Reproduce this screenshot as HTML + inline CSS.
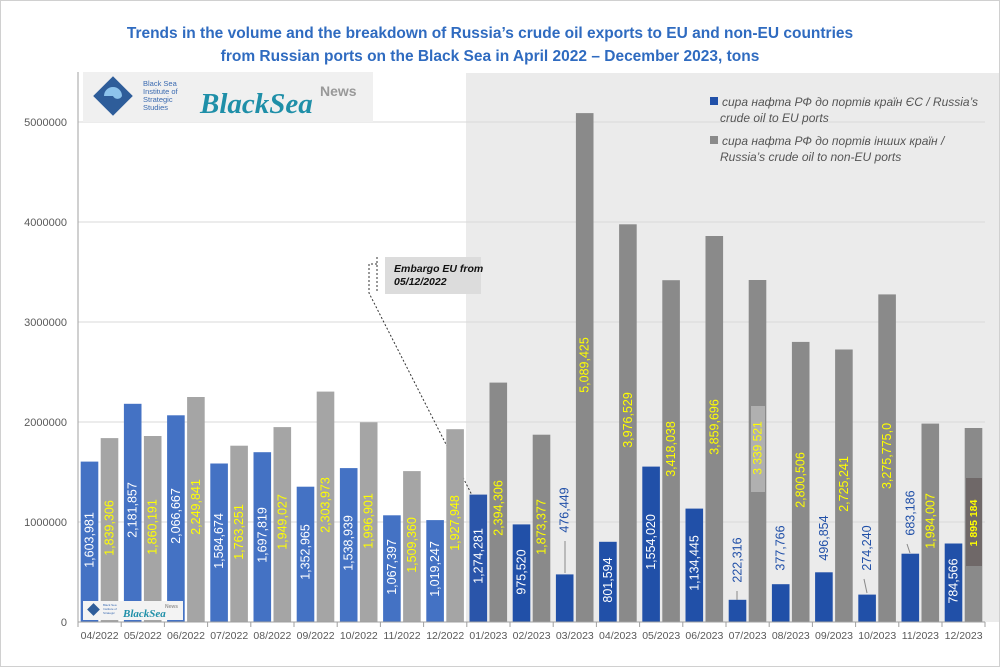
<!DOCTYPE html>
<html><head><meta charset="utf-8"><style>
body{margin:0;background:#fff;}
svg{display:block;font-family:"Liberation Sans",sans-serif;}
</style></head><body>
<svg width="1000" height="667" viewBox="0 0 1000 667">
<rect x="0.5" y="0.5" width="999" height="666" fill="#fff" stroke="#d0d0d0"/>
<rect x="466" y="73" width="533" height="549" fill="#ebebeb"/>
<text x="490" y="38" text-anchor="middle" font-size="15.5" font-weight="bold" fill="#2f6bc0">Trends in the volume and the breakdown of Russia’s crude oil exports to EU and non-EU countries</text>
<text x="490" y="61" text-anchor="middle" font-size="15.5" font-weight="bold" fill="#2f6bc0">from Russian ports on the Black Sea in April 2022 – December 2023, tons</text>
<g stroke="#d9d9d9" stroke-width="1">
<line x1="78" y1="522" x2="985" y2="522"/><line x1="78" y1="422" x2="985" y2="422"/><line x1="78" y1="322" x2="985" y2="322"/><line x1="78" y1="222" x2="985" y2="222"/><line x1="78" y1="122" x2="985" y2="122"/>
</g>
<g font-size="11" fill="#595959" text-anchor="end">
<text x="67" y="626">0</text><text x="67" y="526">1000000</text><text x="67" y="426">2000000</text><text x="67" y="326">3000000</text><text x="67" y="226">4000000</text><text x="67" y="126">5000000</text>
</g>
<!-- logo -->
<rect x="83" y="72" width="290" height="50" fill="#f0f0f0"/>
<rect x="99" y="82" width="28" height="28" fill="#2e5d9a" transform="rotate(45 113 96)"/>
<path d="M104 96 a9 9 0 1 1 18 0 a5 5 0 0 1 -9 0" fill="#8dc3ec"/>
<g font-size="7.5" fill="#3a6ab0"><text x="143" y="86">Black Sea</text><text x="143" y="94">Institute of</text><text x="143" y="102">Strategic</text><text x="143" y="110">Studies</text></g>
<text x="200" y="113" font-family="'Liberation Serif',serif" font-style="italic" font-weight="bold" font-size="29" fill="#1f8fa8">BlackSea</text>
<text x="320" y="96" font-size="14" font-weight="bold" fill="#999">News</text>
<!-- legend -->
<rect x="710" y="97" width="8" height="8" fill="#2150a8"/>
<rect x="710" y="136" width="8" height="8" fill="#8a8a8a"/>
<g font-size="12" font-style="italic" fill="#555">
<text x="722" y="106">сира нафта РФ до портів країн ЄС / Russia’s</text>
<text x="720" y="122">crude oil to EU ports</text>
<text x="722" y="145">сира нафта РФ до портів інших країн /</text>
<text x="720" y="161">Russia’s crude oil to non-EU ports</text>
</g>
<!-- embargo -->
<rect x="385" y="257" width="96" height="37" fill="#dcdcdc"/>
<g font-size="10.5" font-style="italic" font-weight="bold" fill="#111"><text x="394" y="272">Embargo EU from</text><text x="394" y="285">05/12/2022</text></g>
<g stroke="#333" stroke-dasharray="2,2" fill="none" stroke-width="1"><path d="M377 257 V293"/><path d="M377 264 H369 V293 L478 507"/></g>
<!-- bars -->
<g>
<rect x="80.7" y="461.6" width="17.6" height="160.4" fill="#4472c4"/><rect x="100.7" y="438.1" width="17.6" height="183.9" fill="#a5a5a5"/>
<rect x="123.9" y="403.8" width="17.6" height="218.2" fill="#4472c4"/><rect x="143.9" y="436" width="17.6" height="186" fill="#a5a5a5"/>
<rect x="167.1" y="415.3" width="17.6" height="206.7" fill="#4472c4"/><rect x="187.1" y="397" width="17.6" height="225" fill="#a5a5a5"/>
<rect x="210.3" y="463.5" width="17.6" height="158.5" fill="#4472c4"/><rect x="230.3" y="445.7" width="17.6" height="176.3" fill="#a5a5a5"/>
<rect x="253.5" y="452.2" width="17.6" height="169.8" fill="#4472c4"/><rect x="273.5" y="427.1" width="17.6" height="194.9" fill="#a5a5a5"/>
<rect x="296.7" y="486.7" width="17.6" height="135.3" fill="#4472c4"/><rect x="316.7" y="391.6" width="17.6" height="230.4" fill="#a5a5a5"/>
<rect x="339.9" y="468.1" width="17.6" height="153.9" fill="#4472c4"/><rect x="359.9" y="422.3" width="17.6" height="199.7" fill="#a5a5a5"/>
<rect x="383.1" y="515.3" width="17.6" height="106.7" fill="#4472c4"/><rect x="403.1" y="471.1" width="17.6" height="150.9" fill="#a5a5a5"/>
<rect x="426.3" y="520.1" width="17.6" height="101.9" fill="#4472c4"/><rect x="446.3" y="429.2" width="17.6" height="192.8" fill="#a5a5a5"/>
<rect x="469.5" y="494.6" width="17.6" height="127.4" fill="#2a55aa"/><rect x="489.5" y="382.6" width="17.6" height="239.4" fill="#8a8a8a"/>
<rect x="512.7" y="524.4" width="17.6" height="97.6" fill="#2150a8"/><rect x="532.7" y="434.7" width="17.6" height="187.3" fill="#8a8a8a"/>
<rect x="555.9" y="574.4" width="17.6" height="47.6" fill="#2150a8"/><rect x="575.9" y="113.1" width="17.6" height="508.9" fill="#8a8a8a"/>
<rect x="599.1" y="541.8" width="17.6" height="80.2" fill="#2150a8"/><rect x="619.1" y="224.3" width="17.6" height="397.7" fill="#8a8a8a"/>
<rect x="642.3" y="466.6" width="17.6" height="155.4" fill="#2150a8"/><rect x="662.3" y="280.2" width="17.6" height="341.8" fill="#8a8a8a"/>
<rect x="685.5" y="508.6" width="17.6" height="113.4" fill="#2150a8"/><rect x="705.5" y="236" width="17.6" height="386" fill="#8a8a8a"/>
<rect x="728.7" y="599.8" width="17.6" height="22.2" fill="#2150a8"/><rect x="748.7" y="280" width="17.6" height="342" fill="#8a8a8a"/>
<rect x="771.9" y="584.2" width="17.6" height="37.8" fill="#2150a8"/><rect x="791.9" y="341.9" width="17.6" height="280.1" fill="#8a8a8a"/>
<rect x="815.1" y="572.3" width="17.6" height="49.7" fill="#2150a8"/><rect x="835.1" y="349.5" width="17.6" height="272.5" fill="#8a8a8a"/>
<rect x="858.3" y="594.6" width="17.6" height="27.4" fill="#2150a8"/><rect x="878.3" y="294.4" width="17.6" height="327.6" fill="#8a8a8a"/>
<rect x="901.5" y="553.7" width="17.6" height="68.3" fill="#2150a8"/><rect x="921.5" y="423.6" width="17.6" height="198.4" fill="#8a8a8a"/>
<rect x="944.7" y="543.5" width="17.6" height="78.5" fill="#2150a8"/><rect x="964.7" y="428" width="17.6" height="194" fill="#8a8a8a"/>
<rect x="751" y="406" width="14" height="86" fill="#b0b0b0"/>
<rect x="966" y="478" width="16" height="88" fill="#6f6868"/>
</g>
<g stroke="#888" stroke-width="1"><line x1="565" y1="541" x2="565" y2="573"/><line x1="737" y1="591" x2="737" y2="600"/><line x1="864" y1="579" x2="867" y2="593"/><line x1="907" y1="544" x2="910" y2="553"/></g>
<!-- axes -->
<line x1="78" y1="72" x2="78" y2="622" stroke="#a0a0a0"/>
<line x1="78" y1="622" x2="985" y2="622" stroke="#a0a0a0"/>
<!-- labels -->
<g font-size="12.5" text-anchor="middle" dominant-baseline="central">
<g fill="#fff">
<text transform="translate(89.5,540) rotate(-90)">1,603,981</text>
<text transform="translate(132.7,510) rotate(-90)">2,181,857</text>
<text transform="translate(175.9,516) rotate(-90)">2,066,667</text>
<text transform="translate(219.1,541) rotate(-90)">1,584,674</text>
<text transform="translate(262.3,535) rotate(-90)">1,697,819</text>
<text transform="translate(305.5,552) rotate(-90)">1,352,965</text>
<text transform="translate(348.7,543) rotate(-90)">1,538,939</text>
<text transform="translate(391.9,567) rotate(-90)">1,067,397</text>
<text transform="translate(435.1,569) rotate(-90)">1,019,247</text>
<text transform="translate(478.3,556) rotate(-90)">1,274,281</text>
<text transform="translate(521.5,572) rotate(-90)">975,520</text>
<text transform="translate(607.9,580) rotate(-90)">801,594</text>
<text transform="translate(651.1,542) rotate(-90)">1,554,020</text>
<text transform="translate(694.3,563) rotate(-90)">1,134,445</text>
<text transform="translate(953.5,581) rotate(-90)">784,566</text>
</g>
<g fill="#2150a8">
<text transform="translate(564.7,510) rotate(-90)">476,449</text>
<text transform="translate(737.5,560) rotate(-90)">222,316</text>
<text transform="translate(780.7,548) rotate(-90)">377,766</text>
<text transform="translate(823.9,538) rotate(-90)">496,854</text>
<text transform="translate(867.1,548) rotate(-90)">274,240</text>
<text transform="translate(910.3,513) rotate(-90)">683,186</text>
</g>
<g fill="#ffff00">
<text transform="translate(109.5,528) rotate(-90)">1,839,306</text>
<text transform="translate(152.7,527) rotate(-90)">1,860,191</text>
<text transform="translate(195.9,507) rotate(-90)">2,249,841</text>
<text transform="translate(239.1,532) rotate(-90)">1,763,251</text>
<text transform="translate(282.3,522) rotate(-90)">1,949,027</text>
<text transform="translate(325.5,505) rotate(-90)">2,303,973</text>
<text transform="translate(368.7,521) rotate(-90)">1,996,901</text>
<text transform="translate(411.9,545) rotate(-90)">1,509,360</text>
<text transform="translate(455.1,523) rotate(-90)">1,927,948</text>
<text transform="translate(498.3,508) rotate(-90)">2,394,306</text>
<text transform="translate(541.5,527) rotate(-90)">1,873,377</text>
<text transform="translate(584.7,365) rotate(-90)">5,089,425</text>
<text transform="translate(627.9,420) rotate(-90)">3,976,529</text>
<text transform="translate(671.1,449) rotate(-90)">3,418,038</text>
<text transform="translate(714.3,427) rotate(-90)">3,859,696</text>
<text transform="translate(757.5,448) rotate(-90)" font-size="12">3 339 521</text>
<text transform="translate(800.7,480) rotate(-90)">2,800,506</text>
<text transform="translate(843.9,484) rotate(-90)">2,725,241</text>
<text transform="translate(887.1,456) rotate(-90)">3,275,775,0</text>
<text transform="translate(930.3,521) rotate(-90)">1,984,007</text>
<text transform="translate(974,523) rotate(-90)" font-size="10.5" font-weight="bold">1 895 184</text>
</g>
</g>
<!-- small logo (on top) -->
<rect x="83" y="601" width="100" height="19" fill="#f3f3f3"/>
<rect x="89" y="605" width="9" height="9" fill="#2e5d9a" transform="rotate(45 93.5 609.5)"/>
<g font-size="3" fill="#3a6ab0"><text x="103" y="606">Black Sea</text><text x="103" y="610">Institute of</text><text x="103" y="614">Strategic</text></g>
<text x="123" y="617" font-family="'Liberation Serif',serif" font-style="italic" font-weight="bold" font-size="11" fill="#1f8fa8">BlackSea</text>
<text x="165" y="608" font-size="5" font-weight="bold" fill="#999">News</text>
<g stroke="#a0a0a0"><line x1="78" y1="622" x2="78" y2="627"/><line x1="121.2" y1="622" x2="121.2" y2="627"/><line x1="164.4" y1="622" x2="164.4" y2="627"/><line x1="207.6" y1="622" x2="207.6" y2="627"/><line x1="250.8" y1="622" x2="250.8" y2="627"/><line x1="294" y1="622" x2="294" y2="627"/><line x1="337.2" y1="622" x2="337.2" y2="627"/><line x1="380.4" y1="622" x2="380.4" y2="627"/><line x1="423.6" y1="622" x2="423.6" y2="627"/><line x1="466.8" y1="622" x2="466.8" y2="627"/><line x1="510" y1="622" x2="510" y2="627"/><line x1="553.2" y1="622" x2="553.2" y2="627"/><line x1="596.4" y1="622" x2="596.4" y2="627"/><line x1="639.6" y1="622" x2="639.6" y2="627"/><line x1="682.8" y1="622" x2="682.8" y2="627"/><line x1="726" y1="622" x2="726" y2="627"/><line x1="769.2" y1="622" x2="769.2" y2="627"/><line x1="812.4" y1="622" x2="812.4" y2="627"/><line x1="855.6" y1="622" x2="855.6" y2="627"/><line x1="898.8" y1="622" x2="898.8" y2="627"/><line x1="942" y1="622" x2="942" y2="627"/><line x1="985" y1="622" x2="985" y2="627"/></g>
<g font-size="10.5" fill="#595959" text-anchor="middle">
<text x="99.6" y="639">04/2022</text><text x="142.8" y="639">05/2022</text><text x="186" y="639">06/2022</text><text x="229.2" y="639">07/2022</text><text x="272.4" y="639">08/2022</text><text x="315.6" y="639">09/2022</text><text x="358.8" y="639">10/2022</text><text x="402" y="639">11/2022</text><text x="445.2" y="639">12/2022</text><text x="488.4" y="639">01/2023</text><text x="531.6" y="639">02/2023</text><text x="574.8" y="639">03/2023</text><text x="618" y="639">04/2023</text><text x="661.2" y="639">05/2023</text><text x="704.4" y="639">06/2023</text><text x="747.6" y="639">07/2023</text><text x="790.8" y="639">08/2023</text><text x="834" y="639">09/2023</text><text x="877.2" y="639">10/2023</text><text x="920.4" y="639">11/2023</text><text x="963.6" y="639">12/2023</text>
</g>
</svg>
</body></html>
